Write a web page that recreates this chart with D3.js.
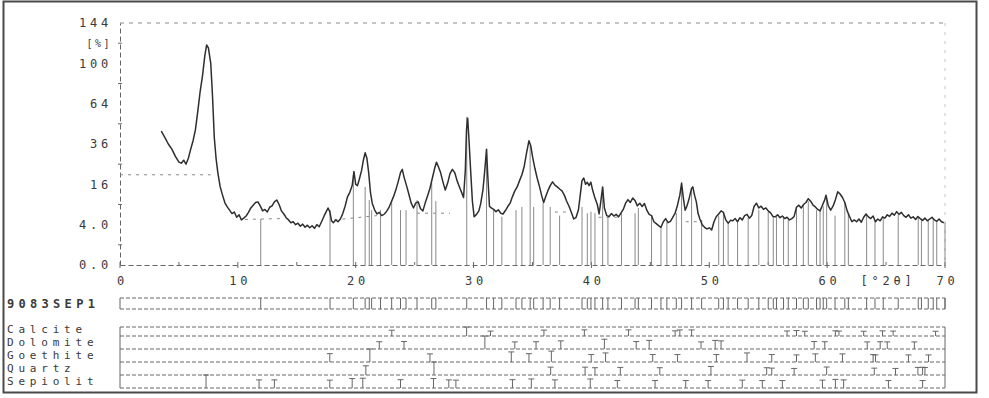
<!DOCTYPE html>
<html><head><meta charset="utf-8">
<script src="https://cdn.jsdelivr.net/npm/d3@7"></script>
<style>
body{margin:0;background:#fff;}
svg{display:block;background:#fff;}
text{font-family:"DejaVu Sans Mono",monospace;fill:#3a3a3a;}
</style></head><body>
<svg id="c" width="989" height="398"></svg>
<script>
// ---- data ----
const scan = [
[3.5,44],[3.8,40],[4.1,36],[4.4,33],[4.7,29],[5.0,26],[5.2,25.5],[5.4,27],[5.6,25],[5.8,28],
[6.0,33],[6.2,38],[6.4,45],[6.6,58],[6.8,74],[7.0,88],[7.2,108],[7.35,119],[7.5,116],[7.7,100],
[7.85,70],[8.0,40],[8.15,28],[8.3,21],[8.5,15],[8.7,12],[8.9,9.5],[9.1,8.3],[9.3,7.4],[9.5,6.5],
[9.7,6.9],[9.9,5.6],[10.1,6.2],[10.3,5.0],[10.5,5.4],[10.7,5.9],[10.9,6.8],[11.1,8.0],[11.3,8.8],[11.5,9.6],
[11.7,9.8],[11.9,8.6],[12.1,7.2],[12.3,7.6],[12.5,6.9],[12.7,8.2],[12.9,8.6],[13.1,9.8],[13.3,10.4],[13.5,9.0],
[13.7,7.2],[13.9,6.4],[14.1,5.5],[14.3,5.0],[14.5,4.4],[14.7,4.6],[14.9,4.0],[15.1,4.3],[15.3,3.7],[15.5,4.1],
[15.7,3.5],[15.9,3.9],[16.1,3.4],[16.3,3.8],[16.5,3.3],[16.7,4.0],[16.9,3.6],[17.1,4.6],[17.3,5.8],[17.5,7.0],
[17.65,8.0],[17.8,7.0],[17.95,4.8],[18.1,4.4],[18.3,5.0],[18.5,4.6],[18.7,5.2],[18.9,6.5],[19.1,8.5],[19.3,11.4],
[19.5,13.0],[19.7,15.5],[19.85,21.5],[20.0,16],[20.15,15.5],[20.3,18],[20.5,22],[20.65,27],[20.8,31],[20.95,28],
[21.1,21],[21.25,13],[21.4,9.4],[21.6,7.5],[21.8,6.4],[22.0,6.8],[22.2,6.0],[22.4,6.3],[22.6,7.0],[22.8,8.0],
[23.0,9.6],[23.2,11.4],[23.4,13.8],[23.6,17],[23.8,21],[23.95,22.5],[24.1,19],[24.3,15.7],[24.5,12.5],[24.7,9.5],
[24.9,8.0],[25.1,9.5],[25.3,9.8],[25.5,7.8],[25.7,7.2],[25.9,9.5],[26.1,11.8],[26.3,14.5],[26.5,18.5],[26.7,23],
[26.85,26],[27.0,24],[27.2,21],[27.4,17],[27.6,13.8],[27.8,16.5],[28.0,20.5],[28.2,22.5],[28.4,21],[28.6,17.5],
[28.8,15],[29.0,12.8],[29.15,11.2],[29.3,22],[29.4,45],[29.5,53],[29.6,40],[29.75,22],[29.9,10],[30.05,5.7],
[30.25,6.3],[30.45,7.2],[30.6,9.2],[30.8,14],[30.95,22],[31.1,33],[31.2,20],[31.35,8.5],[31.5,8.0],[31.7,7.6],
[31.9,7.0],[32.1,7.5],[32.3,6.6],[32.5,6.4],[32.7,7.3],[32.9,8.4],[33.1,9.4],[33.3,11.5],[33.5,13.5],[33.7,15],
[33.9,17.5],[34.1,20],[34.3,24],[34.5,31],[34.7,38],[34.85,35],[35.0,29],[35.2,23],[35.4,18.5],[35.6,15],
[35.8,11.5],[35.95,9.6],[36.1,11.3],[36.3,13.5],[36.5,15.5],[36.7,17],[36.9,15.7],[37.1,15.0],[37.3,14.2],[37.5,13.5],
[37.7,12.0],[37.9,10.0],[38.1,8.5],[38.3,6.8],[38.5,5.2],[38.7,5.6],[38.9,7.5],[39.05,12],[39.2,17.5],[39.35,18.6],
[39.5,16],[39.65,16.8],[39.8,15.5],[39.95,16.9],[40.1,13.8],[40.3,11],[40.5,9.0],[40.65,6.4],[40.8,10],[40.95,15],
[41.1,8],[41.3,6.0],[41.5,5.8],[41.7,6.5],[41.9,5.9],[42.1,6.3],[42.3,5.7],[42.5,6.6],[42.7,7.6],[42.9,9.4],
[43.1,10.5],[43.3,9.6],[43.5,11.0],[43.7,10.2],[43.9,8.6],[44.1,9.4],[44.3,8.4],[44.5,9.3],[44.7,7.4],[44.9,6.3],
[45.1,6.0],[45.3,4.6],[45.5,4.2],[45.7,3.8],[45.9,3.5],[46.1,4.6],[46.3,5.3],[46.5,4.4],[46.7,4.7],[46.9,5.6],
[47.1,6.6],[47.3,8.8],[47.5,12],[47.65,16.5],[47.8,11],[47.95,7.4],[48.1,8.5],[48.3,11],[48.5,14.5],[48.6,15],
[48.75,12],[48.9,9.8],[49.05,6.5],[49.2,5.2],[49.4,4.0],[49.6,3.5],[49.8,3.2],[50.0,3.4],[50.2,3.0],[50.4,4.6],
[50.6,5.8],[50.8,6.4],[51.0,7.2],[51.2,6.8],[51.4,5.0],[51.6,4.3],[51.8,4.9],[52.0,4.8],[52.2,5.3],[52.4,4.6],
[52.6,5.5],[52.8,5.0],[53.0,6.0],[53.2,6.3],[53.4,5.4],[53.6,6.0],[53.8,8.4],[54.0,9.4],[54.2,8.0],[54.4,8.5],
[54.6,7.6],[54.8,8.0],[55.0,7.2],[55.2,6.7],[55.4,5.8],[55.6,5.7],[55.8,6.2],[56.0,5.5],[56.2,5.9],[56.4,5.3],
[56.6,5.6],[56.8,5.0],[57.0,5.3],[57.2,5.8],[57.4,8.2],[57.6,8.8],[57.8,8.0],[58.0,9.0],[58.2,9.6],[58.4,10.8],
[58.6,10.0],[58.8,8.8],[59.0,8.3],[59.2,7.6],[59.4,7.2],[59.6,8.8],[59.8,10.5],[59.9,12.0],[60.1,8.6],[60.3,7.4],
[60.5,8.5],[60.7,10.5],[60.9,13.2],[61.1,12.4],[61.3,11.2],[61.5,9.6],[61.7,7.2],[61.9,5.8],[62.1,4.6],[62.3,5.0],
[62.5,4.6],[62.7,5.2],[62.9,4.5],[63.1,5.6],[63.3,6.4],[63.5,5.7],[63.7,5.3],[63.9,5.9],[64.1,4.6],[64.3,5.2],
[64.5,4.8],[64.7,5.7],[64.9,5.4],[65.1,6.2],[65.3,5.8],[65.5,6.6],[65.7,6.1],[65.9,7.0],[66.1,6.3],[66.3,6.8],
[66.5,6.0],[66.7,5.6],[66.9,6.2],[67.1,5.4],[67.3,5.7],[67.5,5.1],[67.7,5.8],[67.9,5.3],[68.1,4.9],[68.3,5.4],
[68.5,4.8],[68.7,5.2],[68.9,5.6],[69.1,5.0],[69.3,4.7],[69.5,5.2],[69.7,4.6],[69.9,4.4]
];

const yTickValues = [0, 4, 16, 36, 64, 100, 144];
const yTickLabels = ["0.0", "4.0", "16", "36", "64", "100", "144"];
const yMinorTicks = [1, 9, 25, 49, 81, 121];
const yUnitLabel = "[%]";
const xTickValues = [0, 10, 20, 30, 40, 50, 60, 70];
const xTickLabels = ["0", "10", "20", "30", "40", "50", "60", "70"];
const xMinorTicks = [5, 15, 25, 35, 45, 55, 65];
const xUnitLabel = "[°2θ]";

// detected peak markers: position (°2θ) and top (%)
const markerPos = [11.94,17.82,19.8,20.8,21.15,21.35,22.1,23.05,23.8,24.27,25.2,26.45,26.8,29.42,31.1,31.7,32.4,33.6,34.1,34.8,
  35.1,35.9,36.5,37.3,39.2,39.65,39.96,40.3,40.95,41.4,42.55,43.7,43.98,45.1,45.9,46.4,47.2,47.65,48.5,49.35,
  50.8,51.2,51.6,52.4,53.3,54.2,55.0,55.43,55.7,56.3,56.7,57.4,57.98,58.4,59.1,59.4,59.67,59.96,60.67,61.5,
  61.8,63.35,64.06,64.76,66.03,67.73,68.0,68.58,69.0,69.3,70.0];
const markerTop = [5.2,7.4,20,15,10.4,7.4,7.4,10.4,7.4,7.4,10.4,16.5,10,54,33,7.4,5.7,7.4,8.3,35,
  8.3,9.4,8.3,6,8.3,6.6,7.0,6.6,14.6,5.7,6.6,6.6,8,6,3.5,4.5,6.6,16,14,5,
  6,6.6,4.3,4.6,5.5,7.5,7,5.8,5.7,5.5,5,8,8.5,10,7.4,7.2,8.5,11,6,9.5,
  6.5,6.2,5.0,5.5,6.2,5.5,5,4.8,5.2,4.8,4.4];

// background (dashed) segments
const backgroundSegments = [
  [[0,20],[7.7,20]],
  [[10.6,5.1],[13.6,5.3]],
  [[18.2,5.0],[21.8,6.0]],
  [[25.2,6.6],[28.0,6.6]],
  [[36.9,6.9],[38.2,6.9]],
  [[40.6,5.6],[42.2,5.6]],
  [[48.0,4.6],[49.4,4.6]]
];

const sampleName = "9083SEP1";
const phaseNames = ["Calcite", "Dolomite", "Goethite", "Quartz", "Sepiolit"];
const calcite = [[23.06,12],[29.41,100],[31.44,3],[35.97,14],[39.4,18],[43.15,18],[47.1,5],[47.5,17],[48.5,17],[56.6,4],[57.4,8],[58.1,2],[60.7,5],[61.0,3],[63.1,2],[64.7,5],[65.6,3],[69.2,2]];
const dolomite = [[22.0,4],[24.1,5],[30.96,100],[33.5,3],[35.3,4],[37.4,10],[41.1,30],[43.8,5],[44.9,15],[49.3,3],[50.5,15],[51.0,10],[58.9,5],[59.8,4],[63.4,3],[64.5,4],[65.1,3],[67.4,3]];
const goethite = [[17.8,12],[21.2,100],[26.3,10],[33.2,35],[34.7,12],[36.6,50],[39.98,5],[41.2,20],[45.2,5],[47.3,5],[50.6,5],[53.2,20],[55.3,5],[57.4,3],[59.0,10],[61.3,10],[63.9,5],[64.1,3],[66.9,3],[68.6,3]];
const quartz = [[20.86,22],[26.64,100],[36.54,8],[39.46,8],[40.3,4],[42.45,6],[45.8,4],[50.14,14],[54.87,4],[55.3,2],[57.2,1],[59.96,9],[64.0,2],[65.8,1],[67.7,6],[68.1,7],[68.3,5]];
const sepiolite = [[7.3,100],[11.8,10],[13.1,10],[17.8,8],[19.7,25],[20.6,30],[23.8,12],[26.6,25],[27.9,10],[28.5,8],[33.3,12],[34.9,20],[36.9,10],[39.9,20],[42.2,5],[45.4,5],[48.0,5],[49.9,5],[52.8,8],[54.5,5],[56.2,5],[59.6,8],[60.7,15],[61.4,10],[65.2,5],[68.1,5]];
const phaseSticks = [calcite, dolomite, goethite, quartz, sepiolite];

// ---- drawing ----
const svg = d3.select("#c");
const x = d3.scaleLinear().domain([0, 70]).range([120, 945]);
const y = d3.scaleSqrt().domain([0, 144]).range([265, 23]);
const ink = "#3a3a3a", light = "#8a8a8a", mid = "#666";
const LS = 3.8; // letter spacing of plotter font

// outer frame
svg.append("rect").attr("x", 3.5).attr("y", 1.5).attr("width", 973).attr("height", 391)
  .attr("fill", "none").attr("stroke", "#4a4a4a").attr("stroke-width", 2);

// top dashed line & right faint line
svg.append("line").attr("x1", x(0)).attr("x2", x(70)).attr("y1", y(144)).attr("y2", y(144))
  .attr("stroke", light).attr("stroke-dasharray", "4,5");
svg.append("line").attr("x1", x(70)).attr("x2", x(70)).attr("y1", y(144)).attr("y2", y(0))
  .attr("stroke", "#c4c4c4").attr("stroke-dasharray", "3,6");

// y axis
const yAxis = d3.axisLeft(y).tickValues(yTickValues).tickSize(0).tickPadding(8)
  .tickFormat((d, i) => yTickLabels[i]);
const gy = svg.append("g").attr("transform", `translate(${x(0)},0)`).call(yAxis);
gy.select(".domain").attr("stroke", mid).attr("stroke-dasharray", "5,3");
gy.selectAll("text").attr("font-size", 12).attr("fill", ink)
  .attr("font-family", "DejaVu Sans Mono").style("letter-spacing", LS + "px");
svg.append("g").selectAll("line").data(yMinorTicks).join("line")
  .attr("x1", x(0) - 2).attr("x2", x(0) + 2).attr("y1", d => y(d)).attr("y2", d => y(d))
  .attr("stroke", mid);
svg.append("text").attr("x", x(0) - 8).attr("y", (y(144) + y(100)) / 2).attr("dy", "0.35em")
  .attr("text-anchor", "end").attr("font-size", 10).style("letter-spacing", "2.5px")
  .text(yUnitLabel);

// x axis
const xAxis = d3.axisBottom(x).tickValues(xTickValues).tickSize(0).tickPadding(11)
  .tickFormat((d, i) => xTickLabels[i]);
const gx = svg.append("g").attr("transform", `translate(0,${y(0)})`).call(xAxis);
gx.select(".domain").attr("stroke", mid).attr("stroke-dasharray", "5,3");
gx.selectAll("text").attr("font-size", 12).attr("fill", ink).attr("dx", LS / 2)
  .attr("font-family", "DejaVu Sans Mono").style("letter-spacing", LS + "px");
svg.append("g").selectAll("line").data(xTickValues.concat(xMinorTicks)).join("line")
  .attr("x1", d => x(d)).attr("x2", d => x(d))
  .attr("y1", d => y(0) - 3).attr("y2", d => xTickValues.includes(d) ? y(0) + 3 : y(0))
  .attr("stroke", mid);
svg.append("text").attr("x", x(65) + LS / 2).attr("y", y(0) + 11).attr("dy", "0.71em")
  .attr("text-anchor", "middle").attr("font-size", 12).style("letter-spacing", LS + "px")
  .text(xUnitLabel);

// peak markers
svg.append("g").selectAll("line").data(markerPos).join("line")
  .attr("x1", d => x(d)).attr("x2", d => x(d))
  .attr("y1", y(0)).attr("y2", (d, i) => y(markerTop[i]))
  .attr("stroke", light).attr("stroke-width", 1);

// background dashed segments
svg.append("g").selectAll("line").data(backgroundSegments).join("line")
  .attr("x1", d => x(d[0][0])).attr("y1", d => y(d[0][1]))
  .attr("x2", d => x(d[1][0])).attr("y2", d => y(d[1][1]))
  .attr("stroke", light).attr("stroke-dasharray", "3,5");

// diffraction scan
svg.append("path").datum(scan)
  .attr("d", d3.line().x(d => x(d[0])).y(d => y(d[1])))
  .attr("fill", "none").attr("stroke", "#2e2e2e").attr("stroke-width", 1.5)
  .attr("stroke-linejoin", "round");

// ---- stick pattern panel ----
function dashedH(g, y0) {
  g.append("line").attr("x1", x(0)).attr("x2", x(70)).attr("y1", y0).attr("y2", y0)
    .attr("stroke", mid).attr("stroke-dasharray", "4,2");
}
function edgeV(g, y0, y1) {
  [0, 70].forEach(v => g.append("line").attr("x1", x(v)).attr("x2", x(v))
    .attr("y1", y0).attr("y2", y1).attr("stroke", mid));
}
// sample row
const sTop = 298, sBot = 309;
const gs = svg.append("g");
dashedH(gs, sTop); dashedH(gs, sBot); edgeV(gs, sTop, sBot);
gs.selectAll("line.st").data(markerPos).join("line").attr("class", "st")
  .attr("x1", d => x(d)).attr("x2", d => x(d)).attr("y1", sBot).attr("y2", sTop)
  .attr("stroke", mid);
svg.append("text").attr("x", 7).attr("y", (sTop + sBot) / 2).attr("dy", "0.35em")
  .attr("font-size", 12).attr("font-weight", "bold").attr("fill", "#333")
  .style("letter-spacing", "4.3px").text(sampleName);

// phase rows
const pTop = 327;
const baselines = [336, 349, 362, 375, 388];
const gp = svg.append("g");
dashedH(gp, pTop);
edgeV(gp, pTop, baselines[4]);
const stickH = (d, h) => h * (0.45 + 0.55 * Math.sqrt(d[1] / 100));
baselines.forEach((b, i) => {
  dashedH(gp, b);
  const top = i === 0 ? pTop : baselines[i - 1];
  const h = b - top;
  const sticks = phaseSticks[i];
  gp.append("g").selectAll("line").data(sticks).join("line")
    .attr("x1", d => x(d[0])).attr("x2", d => x(d[0]))
    .attr("y1", b).attr("y2", d => b - stickH(d, h))
    .attr("stroke", mid);
  gp.append("g").selectAll("line").data(sticks).join("line")
    .attr("x1", d => x(d[0]) - 3).attr("x2", d => x(d[0]) + 3)
    .attr("y1", d => b - stickH(d, h))
    .attr("y2", d => b - stickH(d, h))
    .attr("stroke", mid);
});
const labelY = [329, 342, 355, 368, 381];
svg.append("g").selectAll("text").data(phaseNames).join("text")
  .attr("x", 7).attr("y", (d, i) => labelY[i]).attr("dy", "0.35em")
  .attr("font-size", 11).attr("fill", "#333").style("letter-spacing", "4.8px")
  .text(d => d);
</script>
</body></html>
